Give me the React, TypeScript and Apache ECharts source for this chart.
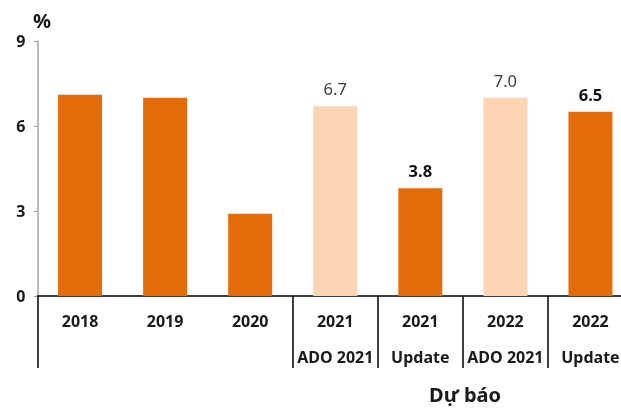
import React, { useEffect, useRef } from "react";
import * as echarts from "echarts";

const years = ["2018", "2019", "2020", "2021", "2021", "2022", "2022"];
const subLabels = ["", "", "", "ADO 2021", "Update", "ADO 2021", "Update"];
const values = [7.1, 7.0, 2.9, 6.7, 3.8, 7.0, 6.5];
const kinds = ["actual", "actual", "actual", "ado", "update", "ado", "update"];
const yTicks = [0, 3, 6, 9];
const separatorIndices = [0, 3, 4, 5, 6];

const FONT = "'Noto Sans', 'DejaVu Sans', sans-serif";
const DARK = "#E46C0A";
const LIGHT = "#FCD5B5";

export default function App() {
  const ref = useRef<HTMLDivElement>(null);
  useEffect(() => {
    if (!ref.current) return;
    const chart = echarts.init(ref.current, undefined, { renderer: "svg" });
    const categories = years.map((y, i) => (subLabels[i] ? y + "\n" + subLabels[i] : y));
    const data = values.map((v, i) => {
      const k = kinds[i];
      return {
        value: v,
        itemStyle: { color: k === "ado" ? LIGHT : DARK },
        label: {
          show: k !== "actual",
          position: "top",
          distance: 9,
          fontFamily: FONT,
          fontSize: 16.5,
          fontWeight: k === "update" ? "bold" : "normal",
          color: k === "update" ? "#111" : "#404040",
          formatter: (p: any) => Number(p.value).toFixed(1),
        },
      };
    });
    chart.setOption({
      animation: false,
      grid: { left: 37.5, top: 41, right: 0, bottom: 117, containLabel: false },
      xAxis: {
        type: "category",
        data: categories,
        axisLine: { show: true, lineStyle: { color: "#000", width: 1.5 } },
        axisTick: {
          show: true,
          length: 72,
          lineStyle: { color: "#000", width: 1.5 },
          interval: (index: number) => separatorIndices.includes(index),
        },
        axisLabel: {
          interval: 0,
          margin: 7,
          fontFamily: FONT,
          fontSize: 16,
          fontWeight: "bold",
          color: "#1a1a1a",
          lineHeight: 36,
        },
      },
      yAxis: {
        type: "value",
        min: yTicks[0],
        max: yTicks[yTicks.length - 1],
        interval: 3,
        splitLine: { show: false },
        axisLine: { show: true, lineStyle: { color: "#A6A6A6", width: 1.5 } },
        axisTick: { show: true, length: 4, lineStyle: { color: "#A6A6A6" } },
        axisLabel: {
          margin: 12,
          fontFamily: FONT,
          fontSize: 16,
          fontWeight: "bold",
          color: "#1a1a1a",
        },
      },
      graphic: [
        {
          type: "text",
          left: 33,
          top: 10,
          style: { text: "%", font: "bold 20px " + FONT, fill: "#1a1a1a" },
        },
        {
          type: "text",
          left: 429,
          top: 384,
          style: { text: "Dự báo", font: "bold 20px " + FONT, fill: "#1a1a1a" },
        },
      ],
      series: [
        {
          type: "bar",
          data,
          barWidth: 44,
        },
      ],
    });
    return () => chart.dispose();
  }, []);
  return (
    <div style={{ position: "fixed", left: 0, top: 0, width: 621, height: 413, overflow: "hidden" }}>
      <div ref={ref} style={{ width: 632.5, height: 413 }} />
    </div>
  );
}
